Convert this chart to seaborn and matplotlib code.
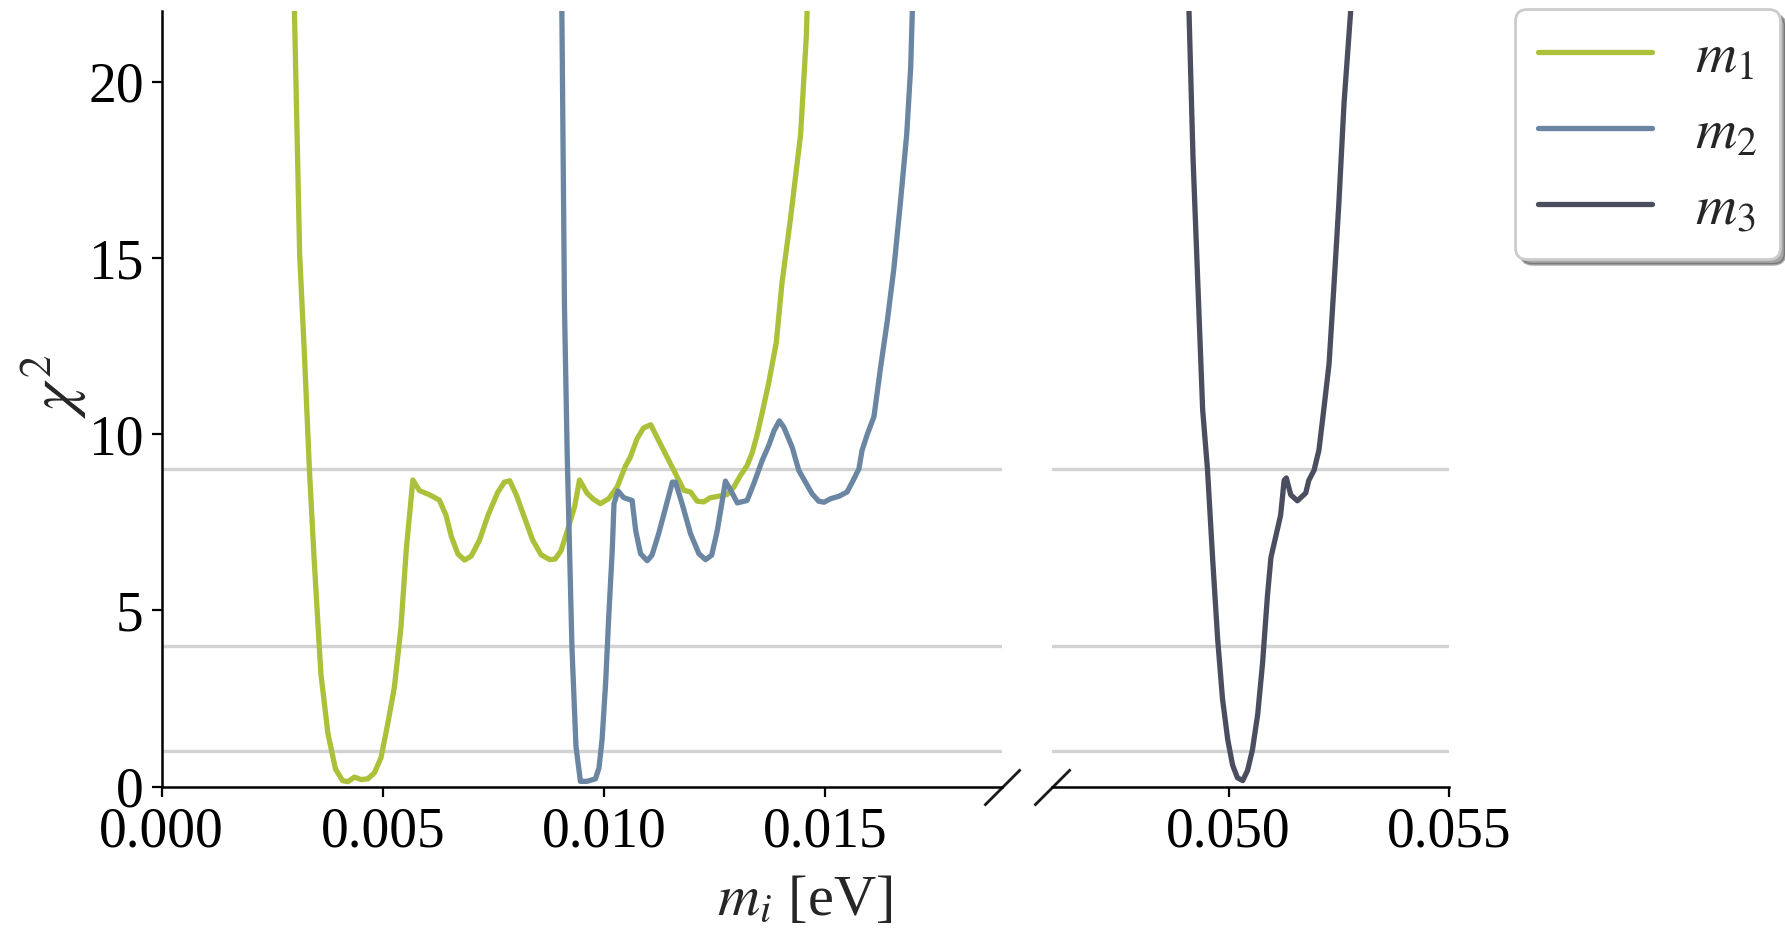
import numpy as np
import pandas as pd
import matplotlib
matplotlib.use("Agg")
import matplotlib.pyplot as plt
import seaborn as sns

# -----------------------------
# Data
# -----------------------------
m1_x = [0.00300, 0.00312, 0.00323, 0.00334, 0.00345, 0.00360, 0.00376, 0.00393,
        0.00409, 0.00421, 0.00436, 0.00451, 0.00466, 0.00481, 0.00496, 0.00511,
        0.00526, 0.00541, 0.00553, 0.00568, 0.00583, 0.00606, 0.00628, 0.00643,
        0.00655, 0.00670, 0.00685, 0.00700, 0.00719, 0.00738, 0.00760, 0.00775,
        0.00787, 0.00802, 0.00820, 0.00839, 0.00858, 0.00878, 0.00890, 0.00903,
        0.00918, 0.00934, 0.00945, 0.00962, 0.00976, 0.00992, 0.01011, 0.01030,
        0.01049, 0.01060, 0.01075, 0.01090, 0.01106, 0.01124, 0.01143, 0.01162,
        0.01181, 0.01196, 0.01211, 0.01226, 0.01241, 0.01260, 0.01279, 0.01294,
        0.01309, 0.01324, 0.01336, 0.01347, 0.01358, 0.01372, 0.01390, 0.01403,
        0.01422, 0.01445, 0.01458, 0.01460]
m1_y = [22.1, 15.1, 12.2, 9.0, 6.4, 3.2, 1.5, 0.5,
        0.17, 0.14, 0.27, 0.20, 0.22, 0.39, 0.82, 1.77,
        2.8, 4.5, 6.7, 8.7, 8.4, 8.28, 8.13, 7.7,
        7.1, 6.6, 6.43, 6.54, 7.0, 7.7, 8.35, 8.64,
        8.68, 8.28, 7.65, 7.0, 6.58, 6.44, 6.46, 6.69,
        7.28, 7.95, 8.70, 8.33, 8.16, 8.03, 8.17, 8.5,
        9.1, 9.35, 9.87, 10.18, 10.27, 9.82, 9.35, 8.88,
        8.41, 8.36, 8.10, 8.08, 8.20, 8.24, 8.29, 8.50,
        8.83, 9.11, 9.49, 10.0, 10.6, 11.4, 12.6, 14.3,
        16.1, 18.5, 21.3, 22.1]

m2_x = [0.00905, 0.00911, 0.00917, 0.00921, 0.00928, 0.00937, 0.00947, 0.00962,
        0.00981, 0.00989, 0.00996, 0.01004, 0.01011, 0.01019, 0.01023, 0.01032,
        0.01045, 0.01064, 0.01072, 0.01083, 0.01098, 0.01109, 0.01124, 0.01140,
        0.01155, 0.01162, 0.01177, 0.01196, 0.01215, 0.01230, 0.01244, 0.01256,
        0.01268, 0.01275, 0.01287, 0.01302, 0.01324, 0.01339, 0.01358, 0.01373,
        0.01385, 0.01397, 0.01407, 0.01426, 0.01441, 0.01456, 0.01471, 0.01486,
        0.01498, 0.01513, 0.01532, 0.01550, 0.01562, 0.01577, 0.01584, 0.01596,
        0.01611, 0.01626, 0.01641, 0.01656, 0.01671, 0.01685, 0.01694, 0.01698]
m2_y = [22.1, 13.6, 9.5, 7.46, 3.9, 1.14, 0.15, 0.15,
        0.22, 0.53, 1.33, 2.93, 4.8, 6.7, 8.03, 8.39,
        8.2, 8.12, 7.27, 6.61, 6.41, 6.57, 7.18, 7.93,
        8.64, 8.64, 8.03, 7.18, 6.61, 6.44, 6.57, 7.23,
        8.12, 8.67, 8.41, 8.05, 8.12, 8.59, 9.25, 9.68,
        10.1, 10.38, 10.2, 9.63, 8.97, 8.64, 8.31, 8.10,
        8.07, 8.17, 8.24, 8.36, 8.64, 9.02, 9.54, 10.0,
        10.5, 11.9, 13.2, 14.7, 16.6, 18.5, 20.4, 22.1]

m3_x = [0.04910, 0.04919, 0.04930, 0.04941, 0.04952, 0.04964, 0.04975, 0.04986,
        0.04998, 0.05009, 0.05020, 0.05032, 0.05043, 0.05054, 0.05066, 0.05077,
        0.05088, 0.05096, 0.05107, 0.05118, 0.05126, 0.05131, 0.05141, 0.05156,
        0.05175, 0.05182, 0.05194, 0.05205, 0.05216, 0.05228, 0.05239, 0.05250,
        0.05262, 0.05277]
m3_y = [22.0, 17.9, 14.3, 10.7, 9.0, 6.4, 4.2, 2.5,
        1.33, 0.61, 0.25, 0.17, 0.46, 1.04, 2.05, 3.5,
        5.4, 6.5, 7.1, 7.7, 8.69, 8.76, 8.28, 8.11,
        8.33, 8.69, 8.98, 9.55, 10.7, 12.0, 14.2, 16.5,
        19.4, 22.0]

labels = ["$m_1$", "$m_2$", "$m_3$"]
colors = ["#adc03a", "#6a86a3", "#4b4e5e"]
levels = [1, 4, 9]

# -----------------------------
# Style
# -----------------------------
sns.set_theme(style="ticks")
plt.rcParams["font.family"] = ["Liberation Serif", "DejaVu Serif"]
plt.rcParams["mathtext.fontset"] = "stix"
plt.rcParams.update({
    "xtick.labelsize": 20, "ytick.labelsize": 20,
    "axes.edgecolor": "black", "axes.linewidth": 0.9,
    "xtick.color": "black", "ytick.color": "black",
    "xtick.major.size": 3.5, "ytick.major.size": 3.5,
    "xtick.major.width": 0.8, "ytick.major.width": 0.8,
    "xtick.major.pad": 3.5, "ytick.major.pad": 3.0,
})

df = pd.concat([
    pd.DataFrame({"m": m1_x, "chi2": m1_y, "mass": labels[0]}),
    pd.DataFrame({"m": m2_x, "chi2": m2_y, "mass": labels[1]}),
    pd.DataFrame({"m": m3_x, "chi2": m3_y, "mass": labels[2]}),
])
palette = dict(zip(labels, colors))

fig = plt.figure(figsize=(8.925, 4.66), dpi=200)
ax1 = fig.add_axes([0.0906, 0.156, 0.4706, 0.8318])
ax2 = fig.add_axes([0.5896, 0.156, 0.2221, 0.8318])

for ax in (ax1, ax2):
    for lv in levels:
        ax.axhline(lv, color="#d3d3d3", lw=1.2, zorder=1)
    sns.lineplot(data=df, x="m", y="chi2", hue="mass", palette=palette,
                 lw=1.9, ax=ax, legend=False, zorder=3, estimator=None)
    ax.set_ylim(0, 22)
    ax.set_xlabel("")
    ax.set_ylabel("")

ax1.set_xlim(0, 0.019)
ax1.set_xticks([0.0, 0.005, 0.010, 0.015])
ax1.set_xticklabels(["0.000", "0.005", "0.010", "0.015"])
ax1.set_yticks([0, 5, 10, 15, 20])
sns.despine(ax=ax1)

ax2.set_xlim(0.046, 0.055)
ax2.set_xticks([0.050, 0.055])
ax2.set_xticklabels(["0.050", "0.055"])
ax2.set_yticks([])
sns.despine(ax=ax2, left=True)

# break marks on the x axis
kw = dict(marker=[(-1, -1), (1, 1)], markersize=13, linestyle="none",
          color="k", mec="k", mew=1.0, clip_on=False)
ax1.plot([1], [0], transform=ax1.transAxes, **kw)
ax2.plot([0], [0], transform=ax2.transAxes, **kw)

fig.text(0.030, 0.585, r"$\chi^2$", rotation=90, fontsize=23,
         ha="center", va="center")
fig.text(0.4505, 0.033, r"$m_i$ [eV]", fontsize=21, ha="center", va="center")

handles = [plt.Line2D([], [], color=c, lw=1.9) for c in colors]
leg = fig.legend(handles, labels, loc="upper left",
                 bbox_to_anchor=(0.849, 0.99), borderaxespad=0, fontsize=20.5,
                 frameon=True, fancybox=True, shadow=True, framealpha=1,
                 edgecolor="#cccccc", labelspacing=0.42, borderpad=0.4,
                 handletextpad=0.75, handlelength=2.0)

fig.savefig("out.png", dpi=200)
